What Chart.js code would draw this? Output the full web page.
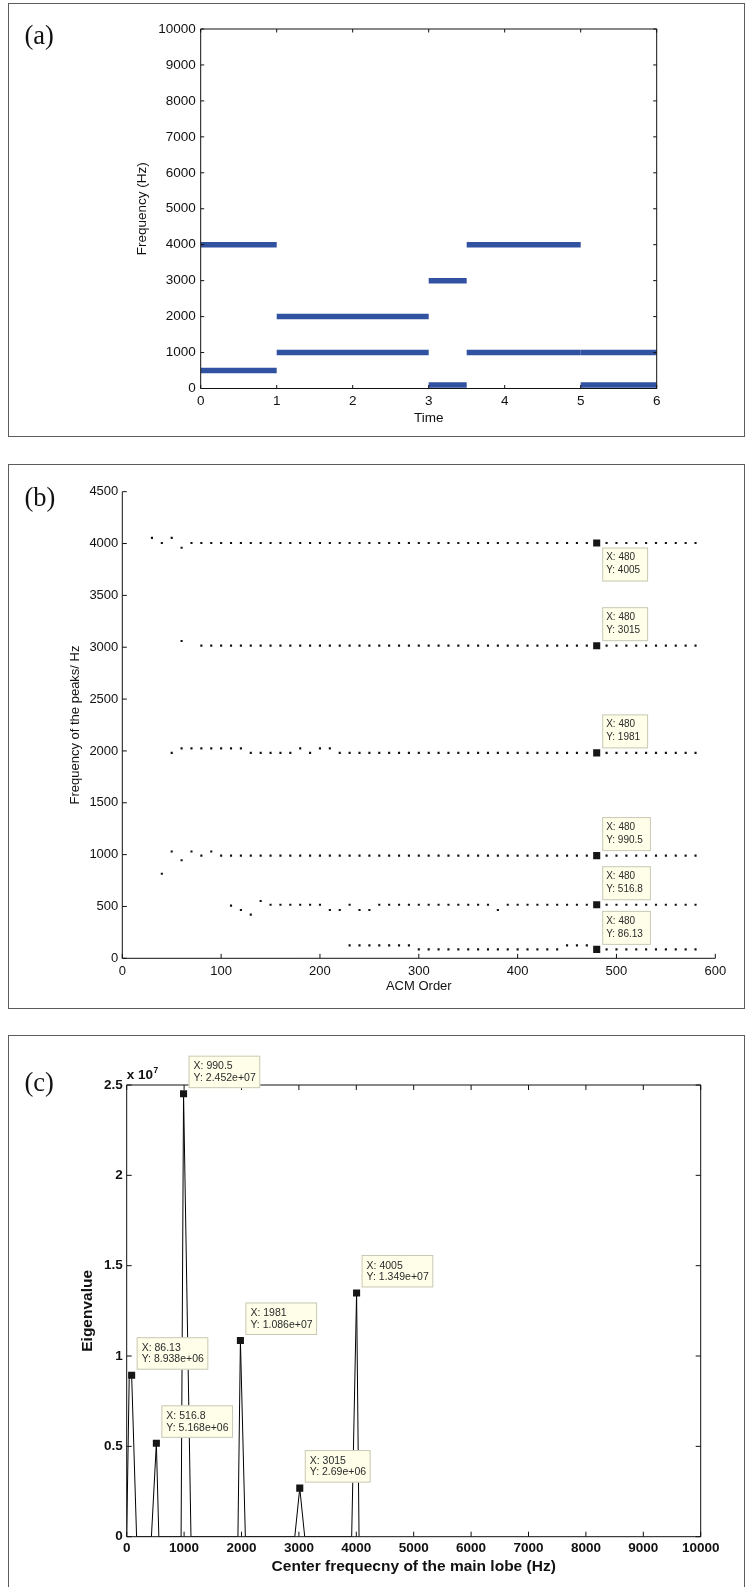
<!DOCTYPE html>
<html>
<head>
<meta charset="utf-8">
<script src="https://cdn.jsdelivr.net/npm/chart.js@4.4.1/dist/chart.umd.min.js"></script>
<style>
html,body{margin:0;padding:0;background:#fff;}
body{width:745px;height:1587px;position:relative;overflow:hidden;font-family:"Liberation Sans",Arial,sans-serif;}
.frame{position:absolute;box-sizing:border-box;border:1.5px solid #5c5c5c;}
.plabel{position:absolute;font-family:"Liberation Serif","Times New Roman",serif;font-size:26.5px;color:#111;line-height:1;white-space:nowrap;}
.cv{position:absolute;left:0;}
.exp{position:absolute;font-family:"Liberation Sans",Arial,sans-serif;font-weight:bold;color:#111;line-height:1;white-space:nowrap;}
</style>
</head>
<body>
<div class="frame" style="left:8px;top:3px;width:737px;height:434px;"></div>
<div class="frame" style="left:8px;top:464px;width:737px;height:545px;"></div>
<div class="frame" style="left:8px;top:1035px;width:737px;height:600px;"></div>

<canvas id="ca" class="cv" width="745" height="440" style="top:0px"></canvas>
<canvas id="cb" class="cv" width="745" height="550" style="top:460px"></canvas>
<canvas id="cc" class="cv" width="745" height="557" style="top:1030px"></canvas>

<div class="plabel" style="left:24.5px;top:22px;">(a)</div>
<div class="plabel" style="left:24.5px;top:484px;">(b)</div>
<div class="plabel" style="left:24.5px;top:1069px;">(c)</div>
<div class="exp" style="left:126.7px;top:1067.7px;font-size:13.5px;">x 10</div>
<div class="exp" style="left:153.5px;top:1066.3px;font-size:8.5px;">7</div>

<script>
// ================= DATA =================
// (a) time-frequency segments
const segStart = [0, 0, 1, 1, 3, 3, 3.5, 3.5, 5, 5];
const segEnd   = [1, 1, 3, 3, 3.5, 3.5, 5, 5, 6, 6];
const segFreq  = [500, 4000, 1000, 2000, 3000, 100, 4000, 1000, 1000, 100];
const aXTicks = [0, 1, 2, 3, 4, 5, 6];
const aYTicks = [0, 1000, 2000, 3000, 4000, 5000, 6000, 7000, 8000, 9000, 10000];

// (b) peak frequencies vs ACM order
const acmOrder = [
  30, 40, 50, 60, 70, 80, 90, 100, 110, 120, 130, 140, 150, 160,
  170, 180, 190, 200, 210, 220, 230, 240, 250, 260, 270, 280, 290, 300,
  310, 320, 330, 340, 350, 360, 370, 380, 390, 400, 410, 420, 430, 440,
  450, 460, 470, 480, 490, 500, 510, 520, 530, 540, 550, 560, 570, 580
];
const peaks4000 = [
  4055, 4005, 4055, 3960, 4005, 4005, 4005, 4005, 4005, 4005, 4005, 4005, 4005, 4005,
  4005, 4005, 4005, 4005, 4005, 4005, 4005, 4005, 4005, 4005, 4005, 4005, 4005, 4005,
  4005, 4005, 4005, 4005, 4005, 4005, 4005, 4005, 4005, 4005, 4005, 4005, 4005, 4005,
  4005, 4005, 4005, 4005, 4005, 4005, 4005, 4005, 4005, 4005, 4005, 4005, 4005, 4005
];
const peaks3000 = [
  null, null, null, 3060, null, 3015, 3015, 3015, 3015, 3015, 3015, 3015, 3015, 3015,
  3015, 3015, 3015, 3015, 3015, 3015, 3015, 3015, 3015, 3015, 3015, 3015, 3015, 3015,
  3015, 3015, 3015, 3015, 3015, 3015, 3015, 3015, 3015, 3015, 3015, 3015, 3015, 3015,
  3015, 3015, 3015, 3015, 3015, 3015, 3015, 3015, 3015, 3015, 3015, 3015, 3015, 3015
];
const peaks2000 = [
  null, null, 1981, 2025, 2025, 2025, 2025, 2025, 2025, 2025, 1981, 1981, 1981, 1981,
  1981, 2025, 1981, 2025, 2025, 1981, 1981, 1981, 1981, 1981, 1981, 1981, 1981, 1981,
  1981, 1981, 1981, 1981, 1981, 1981, 1981, 1981, 1981, 1981, 1981, 1981, 1981, 1981,
  1981, 1981, 1981, 1981, 1981, 1981, 1981, 1981, 1981, 1981, 1981, 1981, 1981, 1981
];
const peaks1000 = [
  null, 815, 1030, 945, 1030, 990.5, 1030, 990.5, 990.5, 990.5, 990.5, 990.5, 990.5, 990.5,
  990.5, 990.5, 990.5, 990.5, 990.5, 990.5, 990.5, 990.5, 990.5, 990.5, 990.5, 990.5, 990.5, 990.5,
  990.5, 990.5, 990.5, 990.5, 990.5, 990.5, 990.5, 990.5, 990.5, 990.5, 990.5, 990.5, 990.5, 990.5,
  990.5, 990.5, 990.5, 990.5, 990.5, 990.5, 990.5, 990.5, 990.5, 990.5, 990.5, 990.5, 990.5, 990.5
];
const peaks500 = [
  null, null, null, null, null, null, null, null, 508, 466, 421, 553, 516.8, 516.8,
  516.8, 516.8, 516.8, 516.8, 466, 466, 516.8, 466, 466, 516.8, 516.8, 516.8, 516.8, 516.8,
  516.8, 516.8, 516.8, 516.8, 516.8, 516.8, 516.8, 466, 516.8, 516.8, 516.8, 516.8, 516.8, 516.8,
  516.8, 516.8, 516.8, 516.8, 516.8, 516.8, 516.8, 516.8, 516.8, 516.8, 516.8, 516.8, 516.8, 516.8
];
const peaks86 = [
  null, null, null, null, null, null, null, null, null, null, null, null, null, null,
  null, null, null, null, null, null, 125, 125, 125, 125, 125, 125, 125, 86.13,
  86.13, 86.13, 86.13, 86.13, 86.13, 86.13, 86.13, 86.13, 86.13, 86.13, 86.13, 86.13, 86.13, 86.13,
  125, 125, 125, 86.13, 86.13, 86.13, 86.13, 86.13, 86.13, 86.13, 86.13, 86.13, 86.13, 86.13
];
const tipOrder = [480, 480, 480, 480, 480, 480];
const tipFreq = [4005, 3015, 1981, 990.5, 516.8, 86.13];
const tipOrderLabels = ['480', '480', '480', '480', '480', '480'];
const tipFreqLabels = ['4005', '3015', '1981', '990.5', '516.8', '86.13'];
const bXTicks = [0, 100, 200, 300, 400, 500, 600];
const bYTicks = [0, 500, 1000, 1500, 2000, 2500, 3000, 3500, 4000, 4500];

// (c) eigenvalue vs centre frequency of main lobe
const lobeFreq = [0, 43.07, 86.13, 172.3, 430.6, 516.8, 559.9, 947.4, 990.5, 1119.7,
                  1937.9, 1981, 2067.1, 2928.4, 3015, 3101.2, 3919.1, 4005, 4048.1];
const lobeEig  = [0, 8.7e6, 8.938e6, 0, 0, 5.168e6, 0, 0, 2.452e7, 0,
                  0, 1.086e7, 0, 0, 2.69e6, 0, 0, 1.349e7, 0];
const peakFreq = [86.13, 516.8, 990.5, 1981, 3015, 4005];
const peakEig  = [8.938e6, 5.168e6, 2.452e7, 1.086e7, 2.69e6, 1.349e7];
const peakFreqLabels = ['86.13', '516.8', '990.5', '1981', '3015', '4005'];
const peakEigLabels  = ['8.938e+06', '5.168e+06', '2.452e+07', '1.086e+07', '2.69e+06', '1.349e+07'];
const cXTicks = [0, 1000, 2000, 3000, 4000, 5000, 6000, 7000, 8000, 9000, 10000];
const cYTicks = [0, 5e6, 1e7, 1.5e7, 2e7, 2.5e7];
const cYTickLabels = ['0', '0.5', '1', '1.5', '2', '2.5'];

// ================= RENDERING =================
const FONT = "'Liberation Sans', Arial, Helvetica, sans-serif";
const INK = '#111';

const frameTicks = {
  id: 'frameTicks',
  afterDatasetsDraw(chart, args, o) {
    const {ctx, chartArea: a, scales} = chart;
    const x = scales.x, y = scales.y;
    ctx.save();
    ctx.strokeStyle = INK;
    ctx.lineWidth = o.lineWidth;
    ctx.beginPath();
    for (const t of x.ticks) {
      const p = x.getPixelForValue(t.value);
      ctx.moveTo(p, a.bottom); ctx.lineTo(p, a.bottom - o.len);
      if (o.box) { ctx.moveTo(p, a.top); ctx.lineTo(p, a.top + o.len); }
    }
    for (const t of y.ticks) {
      const p = y.getPixelForValue(t.value);
      ctx.moveTo(a.left, p); ctx.lineTo(a.left + o.len, p);
      if (o.box) { ctx.moveTo(a.right, p); ctx.lineTo(a.right - o.len, p); }
    }
    ctx.stroke();
    ctx.beginPath();
    if (o.box) {
      ctx.rect(a.left, a.top, a.right - a.left, a.bottom - a.top);
    } else {
      ctx.moveTo(a.left, a.top); ctx.lineTo(a.left, a.bottom); ctx.lineTo(a.right, a.bottom);
    }
    ctx.stroke();
    ctx.restore();
  }
};

const dataTips = {
  id: 'dataTips',
  afterDraw(chart, args, o) {
    const {ctx, scales} = chart;
    const x = scales.x, y = scales.y;
    ctx.save();
    ctx.font = o.size + 'px ' + FONT;
    ctx.textBaseline = 'middle';
    ctx.textAlign = 'left';
    for (const it of o.items) {
      const px = x.getPixelForValue(it.x), py = y.getPixelForValue(it.y);
      const tw = Math.max(...it.lines.map(s => ctx.measureText(s).width));
      const w = tw + o.padL + o.padR, h = o.h;
      const left = px + o.dx;
      const top = it.below ? py + o.dy : py - o.dy - h;
      ctx.fillStyle = '#fefee9';
      ctx.fillRect(left, top, w, h);
      ctx.strokeStyle = '#c8c8b6';
      ctx.lineWidth = 1;
      ctx.strokeRect(left + 0.5, top + 0.5, w - 1, h - 1);
      ctx.fillStyle = '#2b2b2b';
      it.lines.forEach((s, k) => ctx.fillText(s, left + o.padL, top + o.line1 + k * o.gap));
    }
    ctx.restore();
  }
};

function scaleCfg(p) {
  return {
    type: 'linear',
    position: p.position,
    min: p.min, max: p.max,
    afterBuildTicks: s => { s.ticks = p.ticks.map(v => ({value: v})); },
    afterFit: s => { if (p.position === 'left') s.width = p.size; else s.height = p.size; },
    grid: {display: false, drawTicks: false},
    border: {display: false},
    ticks: {
      autoSkip: false, maxRotation: 0, minRotation: 0,
      padding: p.tickPad, color: INK,
      font: {family: FONT, size: p.fontSize, weight: p.bold ? 'bold' : 'normal'},
      callback: p.labels ? ((v, i) => p.labels[i]) : (v => String(v))
    },
    title: {
      display: true, text: p.title, color: INK,
      font: {family: FONT, size: p.titleSize, weight: p.bold ? 'bold' : 'normal'},
      padding: p.position === 'left' ? {top: p.titlePad, bottom: 0} : {top: 0, bottom: p.titlePad}
    }
  };
}

function baseOptions(p) {
  return {
    responsive: false,
    animation: false,
    events: [],
    layout: {padding: {left: 0, top: p.top, right: p.right, bottom: 0}},
    plugins: {legend: {display: false}, tooltip: {enabled: false},
              frameTicks: p.frame, dataTips: p.tips || {items: []}},
    scales: {x: scaleCfg(p.x), y: scaleCfg(p.y)}
  };
}

// ---- (a)
new Chart(document.getElementById('ca'), {
  type: 'scatter',
  data: {
    datasets: segStart.map((s, i) => ({
      data: [{x: s, y: segFreq[i]}, {x: segEnd[i], y: segFreq[i]}],
      showLine: true, borderColor: '#3151a1', borderWidth: 5.5,
      borderCapStyle: 'butt', pointRadius: 0, pointHoverRadius: 0
    }))
  },
  options: baseOptions({
    top: 29, right: 88.3,
    frame: {len: 3.5, box: true, lineWidth: 1},
    x: {position: 'bottom', min: 0, max: 6, ticks: aXTicks, size: 51.5, tickPad: 4.7,
        fontSize: 13.5, title: 'Time', titleSize: 13.5, titlePad: 13.9},
    y: {position: 'left', min: 0, max: 10000, ticks: aYTicks, size: 200.7, tickPad: 5,
        fontSize: 13.5, title: 'Frequency (Hz)', titleSize: 13.5, titlePad: 134.4}
  }),
  plugins: [frameTicks, dataTips]
});

// ---- (b)
const bSeries = [peaks4000, peaks3000, peaks2000, peaks1000, peaks500, peaks86];
const bDatasets = bSeries.map(ser => ({
  data: acmOrder.map((o, i) => ({x: o, y: ser[i]})).filter(pt => pt.y !== null),
  pointStyle: 'rect', pointRadius: 1.5, backgroundColor: INK, borderWidth: 0,
  showLine: false, order: 1
}));
bDatasets.push({
  data: tipOrder.map((o, i) => ({x: o, y: tipFreq[i]})),
  pointStyle: 'rect', pointRadius: 5, backgroundColor: '#161616', borderWidth: 0,
  showLine: false, order: 0
});
new Chart(document.getElementById('cb'), {
  type: 'scatter',
  data: {datasets: bDatasets},
  options: baseOptions({
    top: 31.7, right: 29.7,
    frame: {len: 4.5, box: false, lineWidth: 1},
    tips: {size: 10, h: 34, dx: 5.5, dy: 4.5, padL: 4, padR: 8, line1: 10, gap: 13,
           items: tipOrder.map((o, i) => ({x: o, y: tipFreq[i], below: i === 0,
             lines: ['X: ' + tipOrderLabels[i], 'Y: ' + tipFreqLabels[i]]}))},
    x: {position: 'bottom', min: 0, max: 600, ticks: bXTicks, size: 51.7, tickPad: 4.9,
        fontSize: 13, title: 'ACM Order', titleSize: 13, titlePad: 16.2},
    y: {position: 'left', min: 0, max: 4500, ticks: bYTicks, size: 122.3, tickPad: 4,
        fontSize: 13, title: 'Frequency of the peaks/ Hz', titleSize: 13, titlePad: 67.2}
  }),
  plugins: [frameTicks, dataTips]
});

// ---- (c)
new Chart(document.getElementById('cc'), {
  type: 'scatter',
  data: {
    datasets: [
      {data: lobeFreq.map((f, i) => ({x: f, y: lobeEig[i]})), showLine: true,
       borderColor: '#000', borderWidth: 1, pointRadius: 0, order: 1},
      {data: peakFreq.map((f, i) => ({x: f, y: peakEig[i]})), showLine: false,
       pointStyle: 'rect', pointRadius: 5, backgroundColor: '#161616', borderWidth: 0, order: 0}
    ]
  },
  options: baseOptions({
    top: 55, right: 44.3,
    frame: {len: 5, box: true, lineWidth: 1},
    tips: {size: 10.5, h: 32.5, dx: 5, dy: 5.5, padL: 5, padR: 4.5, line1: 10.7, gap: 11.6,
           items: peakFreq.map((f, i) => ({x: f, y: peakEig[i], below: false,
             lines: ['X: ' + peakFreqLabels[i], 'Y: ' + peakEigLabels[i]]}))},
    x: {position: 'bottom', min: 0, max: 10000, ticks: cXTicks, size: 50.3, tickPad: 3.5,
        fontSize: 13.5, bold: true, title: 'Center frequecny of the main lobe (Hz)', titleSize: 15.5, titlePad: 11},
    y: {position: 'left', min: 0, max: 2.5e7, ticks: cYTicks, labels: cYTickLabels, size: 126.7, tickPad: 4,
        fontSize: 13.5, bold: true, title: 'Eigenvalue', titleSize: 15.5, titlePad: 78.7}
  }),
  plugins: [frameTicks, dataTips]
});
</script>
</body>
</html>
